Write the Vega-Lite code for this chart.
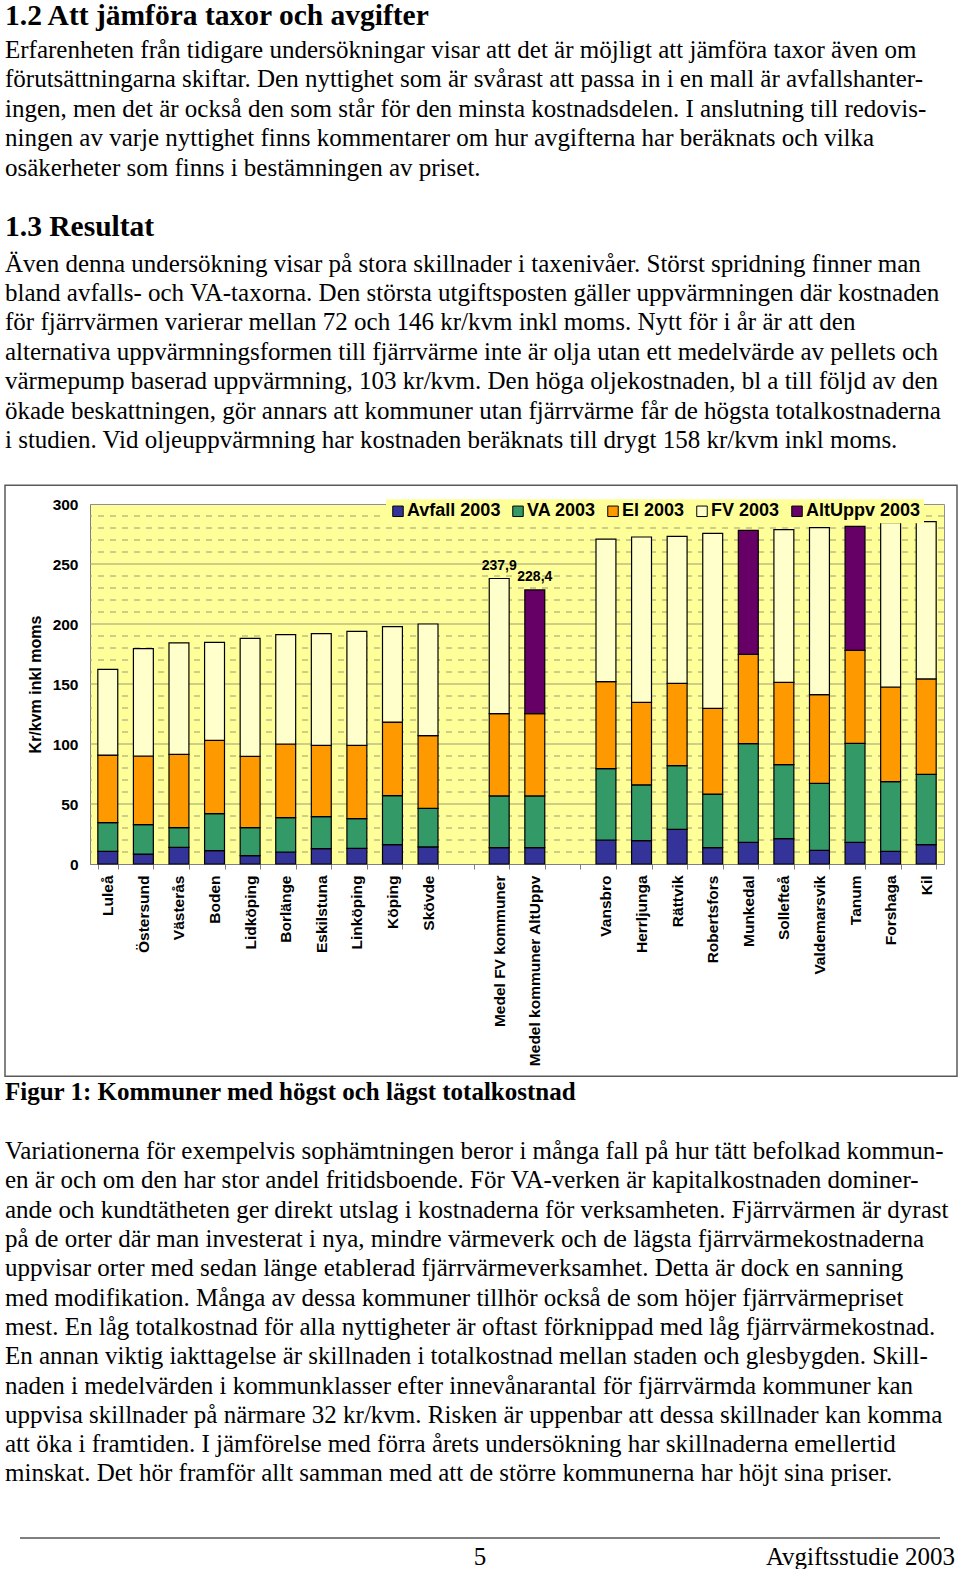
{
  "$schema": "https://vega.github.io/schema/vega-lite/v6.json",
  "background": "white",
  "padding": {"left": 3, "top": 0, "right": 0, "bottom": 0},
  "spacing": 0,
  "bounds": "flush",
  "resolve": {"legend": {"color": "independent", "strokeDash": "independent"}},
  "config": {"view": {"stroke": null}, "font": "Liberation Sans"},
  "datasets": {
    "staplar": [
      {"kommun": "Luleå", "Avfall 2003": 10.6, "VA 2003": 23.8, "El 2003": 56.4, "FV 2003": 71.4},
      {"kommun": "Östersund", "Avfall 2003": 8.3, "VA 2003": 24.5, "El 2003": 57.2, "FV 2003": 89.4},
      {"kommun": "Västerås", "Avfall 2003": 13.9, "VA 2003": 16.4, "El 2003": 61.1, "FV 2003": 92.8},
      {"kommun": "Boden", "Avfall 2003": 11.1, "VA 2003": 30.8, "El 2003": 61.1, "FV 2003": 81.7},
      {"kommun": "Lidköping", "Avfall 2003": 6.9, "VA 2003": 23.4, "El 2003": 59.4, "FV 2003": 98.3},
      {"kommun": "Borlänge", "Avfall 2003": 10.0, "VA 2003": 28.6, "El 2003": 61.4, "FV 2003": 91.1},
      {"kommun": "Eskilstuna", "Avfall 2003": 12.8, "VA 2003": 26.6, "El 2003": 59.5, "FV 2003": 93.1},
      {"kommun": "Linköping", "Avfall 2003": 13.1, "VA 2003": 24.7, "El 2003": 61.1, "FV 2003": 95.0},
      {"kommun": "Köping", "Avfall 2003": 16.1, "VA 2003": 40.8, "El 2003": 61.4, "FV 2003": 79.5},
      {"kommun": "Skövde", "Avfall 2003": 14.2, "VA 2003": 32.2, "El 2003": 60.5, "FV 2003": 93.1},
      {"kommun": "Medel FV kommuner", "Avfall 2003": 13.6, "VA 2003": 43.1, "El 2003": 68.6, "FV 2003": 112.6},
      {"kommun": "Medel kommuner AltUppv", "Avfall 2003": 13.6, "VA 2003": 43.1, "El 2003": 68.6, "AltUppv 2003": 103.1},
      {"kommun": "Vansbro", "Avfall 2003": 20.0, "VA 2003": 59.4, "El 2003": 72.5, "FV 2003": 118.9},
      {"kommun": "Herrljunga", "Avfall 2003": 19.4, "VA 2003": 46.6, "El 2003": 68.7, "FV 2003": 137.8},
      {"kommun": "Rättvik", "Avfall 2003": 28.9, "VA 2003": 53.0, "El 2003": 68.7, "FV 2003": 122.4},
      {"kommun": "Robertsfors", "Avfall 2003": 13.6, "VA 2003": 44.7, "El 2003": 71.4, "FV 2003": 145.9},
      {"kommun": "Munkedal", "Avfall 2003": 18.1, "VA 2003": 82.2, "El 2003": 74.4, "AltUppv 2003": 103.3},
      {"kommun": "Sollefteå", "Avfall 2003": 21.1, "VA 2003": 61.7, "El 2003": 68.6, "FV 2003": 127.2},
      {"kommun": "Valdemarsvik", "Avfall 2003": 11.4, "VA 2003": 55.8, "El 2003": 73.9, "FV 2003": 139.2},
      {"kommun": "Tanum", "Avfall 2003": 18.1, "VA 2003": 82.5, "El 2003": 77.5, "AltUppv 2003": 103.3},
      {"kommun": "Forshaga", "Avfall 2003": 10.6, "VA 2003": 58.0, "El 2003": 78.9, "FV 2003": 136.9},
      {"kommun": "Kil", "Avfall 2003": 16.1, "VA 2003": 58.6, "El 2003": 79.5, "FV 2003": 131.1}
    ],
    "ordning": [
      {"typ": "Avfall 2003", "nr": 1},
      {"typ": "VA 2003", "nr": 2},
      {"typ": "El 2003", "nr": 3},
      {"typ": "FV 2003", "nr": 4},
      {"typ": "AltUppv 2003", "nr": 4}
    ],
    "summor": [
      {"kommun": "Medel FV kommuner", "v": 237.9, "etikett": "237,9"},
      {"kommun": "Medel kommuner AltUppv", "v": 228.4, "etikett": "228,4"}
    ],
    "stodlinjer": [
      {"varde": 10, "linje": "streckad"}, {"varde": 20, "linje": "streckad"}, {"varde": 30, "linje": "streckad"}, {"varde": 40, "linje": "streckad"}, {"varde": 50, "linje": "hel"},
      {"varde": 60, "linje": "streckad"}, {"varde": 70, "linje": "streckad"}, {"varde": 80, "linje": "streckad"}, {"varde": 90, "linje": "streckad"}, {"varde": 100, "linje": "hel"},
      {"varde": 110, "linje": "streckad"}, {"varde": 120, "linje": "streckad"}, {"varde": 130, "linje": "streckad"}, {"varde": 140, "linje": "streckad"}, {"varde": 150, "linje": "hel"},
      {"varde": 160, "linje": "streckad"}, {"varde": 170, "linje": "streckad"}, {"varde": 180, "linje": "streckad"}, {"varde": 190, "linje": "streckad"}, {"varde": 200, "linje": "hel"},
      {"varde": 210, "linje": "streckad"}, {"varde": 220, "linje": "streckad"}, {"varde": 230, "linje": "streckad"}, {"varde": 240, "linje": "streckad"}, {"varde": 250, "linje": "hel"},
      {"varde": 260, "linje": "streckad"}, {"varde": 270, "linje": "streckad"}, {"varde": 280, "linje": "streckad"}, {"varde": 290, "linje": "streckad"}
    ]
  },
  "vconcat": [
    {
      "width": 854, "height": 29.25,
      "data": {"values": [{"rad": 1, "text": "1.2 Att jämföra taxor och avgifter"}]},
      "mark": {"type": "text", "align": "left", "baseline": "alphabetic", "dy": 10.3, "font": "Liberation Serif", "fontWeight": "bold", "fontSize": 29.5, "color": "#000"},
      "encoding": {
        "x": {"datum": 0, "type": "quantitative", "scale": {"domain": [0, 1], "range": [-85, 865], "nice": false, "zero": false}, "axis": null},
        "y": {"field": "rad", "type": "quantitative", "scale": {"domain": [0.5, 1.5], "reverse": true, "nice": false, "zero": false}, "axis": null},
        "text": {"field": "text"}
      }
    },
    {
      "width": 854, "height": 147.5,
      "data": {"values": [
        {"rad": 1, "text": "Erfarenheten från tidigare undersökningar visar att det är möjligt att jämföra taxor även om"},
        {"rad": 2, "text": "förutsättningarna skiftar. Den nyttighet som är svårast att passa in i en mall är avfallshanter-"},
        {"rad": 3, "text": "ingen, men det är också den som står för den minsta kostnadsdelen. I anslutning till redovis-"},
        {"rad": 4, "text": "ningen av varje nyttighet finns kommentarer om hur avgifterna har beräknats och vilka"},
        {"rad": 5, "text": "osäkerheter som finns i bestämningen av priset."}
      ]},
      "mark": {"type": "text", "align": "left", "baseline": "alphabetic", "dy": 13, "font": "Liberation Serif", "fontSize": 25, "color": "#000"},
      "encoding": {
        "x": {"datum": 0, "type": "quantitative", "scale": {"domain": [0, 1], "range": [-85, 865], "nice": false, "zero": false}, "axis": null},
        "y": {"field": "rad", "type": "quantitative", "scale": {"domain": [0.5, 5.5], "reverse": true, "nice": false, "zero": false}, "axis": null},
        "text": {"field": "text"}
      }
    },
    {
      "width": 854, "height": 76.55,
      "data": {"values": [{"rad": 1, "text": "1.3 Resultat"}]},
      "mark": {"type": "text", "align": "left", "baseline": "alphabetic", "dy": 20, "font": "Liberation Serif", "fontWeight": "bold", "fontSize": 29.5, "color": "#000"},
      "encoding": {
        "x": {"datum": 0, "type": "quantitative", "scale": {"domain": [0, 1], "range": [-85, 865], "nice": false, "zero": false}, "axis": null},
        "y": {"field": "rad", "type": "quantitative", "scale": {"domain": [0.5, 1.5], "reverse": true, "nice": false, "zero": false}, "axis": null},
        "text": {"field": "text"}
      }
    },
    {
      "width": 854, "height": 248.4,
      "data": {"values": [
        {"rad": 1, "text": "Även denna undersökning visar på stora skillnader i taxenivåer. Störst spridning finner man"},
        {"rad": 2, "text": "bland avfalls- och VA-taxorna. Den största utgiftsposten gäller uppvärmningen där kostnaden"},
        {"rad": 3, "text": "för fjärrvärmen varierar mellan 72 och 146 kr/kvm inkl moms. Nytt för i år är att den"},
        {"rad": 4, "text": "alternativa uppvärmningsformen till fjärrvärme inte är olja utan ett medelvärde av pellets och"},
        {"rad": 5, "text": "värmepump baserad uppvärmning, 103 kr/kvm. Den höga oljekostnaden, bl a till följd av den"},
        {"rad": 6, "text": "ökade beskattningen, gör annars att kommuner utan fjärrvärme får de högsta totalkostnaderna"},
        {"rad": 7, "text": "i studien. Vid oljeuppvärmning har kostnaden beräknats till drygt 158 kr/kvm inkl moms."}
      ]},
      "mark": {"type": "text", "align": "left", "baseline": "alphabetic", "dy": 2, "font": "Liberation Serif", "fontSize": 25, "color": "#000"},
      "encoding": {
        "x": {"datum": 0, "type": "quantitative", "scale": {"domain": [0, 1], "range": [-85, 865], "nice": false, "zero": false}, "axis": null},
        "y": {"field": "rad", "type": "quantitative", "scale": {"domain": [0.5, 8.949], "reverse": true, "nice": false, "zero": false}, "axis": null},
        "text": {"field": "text"}
      }
    },
    {
      "width": 854, "height": 360,
      "view": {"fill": "#FFFF99", "stroke": "#909090", "strokeWidth": 1},
      "resolve": {"scale": {"x": "independent"}, "axis": {"x": "independent"}},
      "layer": [
        {
          "data": {"values": [{"del": "ram"}]},
          "mark": {"type": "rect", "filled": false, "stroke": "#5a5a5a", "strokeWidth": 1.5},
          "encoding": {
            "x": {"datum": 0, "type": "quantitative", "scale": {"domain": [0, 1], "range": [-85, 867], "nice": false, "zero": false}, "axis": null},
            "x2": {"datum": 1},
            "y": {
              "datum": 315.6, "type": "quantitative", "scale": {"domain": [0, 300], "nice": false},
              "axis": {
                "orient": "left",
                "title": "Kr/kvm inkl moms", "titleFont": "Liberation Sans", "titleFontSize": 16, "titleFontWeight": "bold", "titleColor": "#000", "titlePadding": 9,
                "values": [0, 50, 100, 150, 200, 250, 300],
                "labelFont": "Liberation Sans", "labelFontSize": 15.5, "labelFontWeight": "bold", "labelColor": "#000", "labelPadding": 12,
                "labelOverlap": false, "labelBound": false, "labelFlush": false,
                "ticks": false, "domainColor": "#808080", "grid": false
              }
            },
            "y2": {"datum": -176.9}
          }
        },
        {
          "data": {"name": "stodlinjer"},
          "mark": {"type": "rule", "color": "#9c9c78", "strokeWidth": 1},
          "encoding": {
            "y": {
              "field": "varde", "type": "quantitative", "scale": {"domain": [0, 300], "nice": false},
              "axis": {
                "orient": "left",
                "title": "Kr/kvm inkl moms", "titleFont": "Liberation Sans", "titleFontSize": 16, "titleFontWeight": "bold", "titleColor": "#000", "titlePadding": 9,
                "values": [0, 50, 100, 150, 200, 250, 300],
                "labelFont": "Liberation Sans", "labelFontSize": 15.5, "labelFontWeight": "bold", "labelColor": "#000", "labelPadding": 12,
                "labelOverlap": false, "labelBound": false, "labelFlush": false,
                "ticks": false, "domainColor": "#808080", "grid": false
              }
            },
            "strokeDash": {"field": "linje", "type": "nominal", "scale": {"domain": ["hel", "streckad"], "range": [[1, 0], [6, 6]]}, "legend": null}
          }
        },
        {
          "data": {"name": "staplar"},
          "transform": [
            {"fold": ["Avfall 2003", "VA 2003", "El 2003", "FV 2003", "AltUppv 2003"], "as": ["typ", "v"]},
            {"filter": "isValid(datum.v)"},
            {"lookup": "typ", "from": {"data": {"name": "ordning"}, "key": "typ", "fields": ["nr"]}}
          ],
          "mark": {"type": "bar", "stroke": "#000", "strokeWidth": 1.2},
          "encoding": {
            "x": {
              "field": "kommun", "type": "nominal", "sort": null,
              "scale": {
                "domain": ["Luleå", "Östersund", "Västerås", "Boden", "Lidköping", "Borlänge", "Eskilstuna", "Linköping", "Köping", "Skövde", " ", "Medel FV kommuner", "Medel kommuner AltUppv", "  ", "Vansbro", "Herrljunga", "Rättvik", "Robertsfors", "Munkedal", "Sollefteå", "Valdemarsvik", "Tanum", "Forshaga", "Kil"],
                "paddingInner": 0.44, "paddingOuter": 0.22
              },
              "axis": {
                "title": null, "orient": "bottom", "labelAngle": -90,
                "labelFont": "Liberation Sans", "labelFontSize": 15.5, "labelFontWeight": "bold", "labelColor": "#000",
                "labelPadding": 6, "tickBand": "extent", "tickSize": 5, "tickColor": "#808080",
                "domainColor": "#808080", "labelLimit": 0, "grid": false
              }
            },
            "y": {
              "field": "v", "type": "quantitative", "stack": "zero",
              "scale": {"domain": [0, 300], "nice": false},
              "axis": {
                "orient": "left",
                "title": "Kr/kvm inkl moms", "titleFont": "Liberation Sans", "titleFontSize": 16, "titleFontWeight": "bold", "titleColor": "#000", "titlePadding": 9,
                "values": [0, 50, 100, 150, 200, 250, 300],
                "labelFont": "Liberation Sans", "labelFontSize": 15.5, "labelFontWeight": "bold", "labelColor": "#000", "labelPadding": 12,
                "labelOverlap": false, "labelBound": false, "labelFlush": false,
                "ticks": false, "domainColor": "#808080", "grid": false
              }
            },
            "color": {
              "field": "typ", "type": "nominal",
              "scale": {"domain": ["Avfall 2003", "VA 2003", "El 2003", "FV 2003", "AltUppv 2003"], "range": ["#333399", "#339966", "#FF9900", "#FFFFCC", "#660066"]},
              "legend": {
                "title": null, "orient": "none", "legendX": 296, "legendY": -4.7, "direction": "horizontal", "columns": 5,
                "labelFont": "Liberation Sans", "labelFontWeight": "bold", "labelFontSize": 18, "labelColor": "#000",
                "symbolType": "square", "symbolSize": 110, "symbolStrokeColor": "#000", "symbolStrokeWidth": 1, "symbolOpacity": 1,
                "labelOffset": 0, "columnPadding": 8, "fillColor": "#FFFF99", "padding": 3, "rowPadding": 0
              }
            },
            "order": {"field": "nr", "type": "quantitative"}
          }
        },
        {
          "data": {"name": "summor"},
          "mark": {"type": "text", "font": "Liberation Sans", "fontWeight": "bold", "fontSize": 14, "baseline": "bottom", "dy": -6, "color": "#000"},
          "encoding": {
            "x": {
              "field": "kommun", "type": "nominal", "sort": null,
              "scale": {
                "domain": ["Luleå", "Östersund", "Västerås", "Boden", "Lidköping", "Borlänge", "Eskilstuna", "Linköping", "Köping", "Skövde", " ", "Medel FV kommuner", "Medel kommuner AltUppv", "  ", "Vansbro", "Herrljunga", "Rättvik", "Robertsfors", "Munkedal", "Sollefteå", "Valdemarsvik", "Tanum", "Forshaga", "Kil"],
                "paddingInner": 0.44, "paddingOuter": 0.22
              },
              "axis": null
            },
            "y": {
              "field": "v", "type": "quantitative", "scale": {"domain": [0, 300], "nice": false},
              "axis": {
                "orient": "left",
                "title": "Kr/kvm inkl moms", "titleFont": "Liberation Sans", "titleFontSize": 16, "titleFontWeight": "bold", "titleColor": "#000", "titlePadding": 9,
                "values": [0, 50, 100, 150, 200, 250, 300],
                "labelFont": "Liberation Sans", "labelFontSize": 15.5, "labelFontWeight": "bold", "labelColor": "#000", "labelPadding": 12,
                "labelOverlap": false, "labelBound": false, "labelFlush": false,
                "ticks": false, "domainColor": "#808080", "grid": false
              }
            },
            "text": {"field": "etikett"}
          }
        }
      ]
    },
    {
      "width": 854, "height": 278.65,
      "data": {"values": [{"rad": 1, "text": "Figur 1: Kommuner med högst och lägst totalkostnad"}]},
      "mark": {"type": "text", "align": "left", "baseline": "alphabetic", "dy": 97, "font": "Liberation Serif", "fontWeight": "bold", "fontSize": 25, "color": "#000"},
      "encoding": {
        "x": {"datum": 0, "type": "quantitative", "scale": {"domain": [0, 1], "range": [-85, 865], "nice": false, "zero": false}, "axis": null},
        "y": {"field": "rad", "type": "quantitative", "scale": {"domain": [0.5, 1.5], "reverse": true, "nice": false, "zero": false}, "axis": null},
        "text": {"field": "text"}
      }
    },
    {
      "width": 854, "height": 394.65,
      "data": {"values": [
        {"rad": 1, "text": "Variationerna för exempelvis sophämtningen beror i många fall på hur tätt befolkad kommun-"},
        {"rad": 2, "text": "en är och om den har stor andel fritidsboende. För VA-verken är kapitalkostnaden dominer-"},
        {"rad": 3, "text": "ande och kundtätheten ger direkt utslag i kostnaderna för verksamheten. Fjärrvärmen är dyrast"},
        {"rad": 4, "text": "på de orter där man investerat i nya, mindre värmeverk och de lägsta fjärrvärmekostnaderna"},
        {"rad": 5, "text": "uppvisar orter med sedan länge etablerad fjärrvärmeverksamhet. Detta är dock en sanning"},
        {"rad": 6, "text": "med modifikation. Många av dessa kommuner tillhör också de som höjer fjärrvärmepriset"},
        {"rad": 7, "text": "mest. En låg totalkostnad för alla nyttigheter är oftast förknippad med låg fjärrvärmekostnad."},
        {"rad": 8, "text": "En annan viktig iakttagelse är skillnaden i totalkostnad mellan staden och glesbygden. Skill-"},
        {"rad": 9, "text": "naden i medelvärden i kommunklasser efter innevånarantal för fjärrvärmda kommuner kan"},
        {"rad": 10, "text": "uppvisa skillnader på närmare 32 kr/kvm. Risken är uppenbar att dessa skillnader kan komma"},
        {"rad": 11, "text": "att öka i framtiden. I jämförelse med förra årets undersökning har skillnaderna emellertid"},
        {"rad": 12, "text": "minskat. Det hör framför allt samman med att de större kommunerna har höjt sina priser."}
      ]},
      "mark": {"type": "text", "align": "left", "baseline": "alphabetic", "dy": 1.5, "font": "Liberation Serif", "fontSize": 25, "color": "#000"},
      "encoding": {
        "x": {"datum": 0, "type": "quantitative", "scale": {"domain": [0, 1], "range": [-85, 865], "nice": false, "zero": false}, "axis": null},
        "y": {"field": "rad", "type": "quantitative", "scale": {"domain": [0.5, 13.969], "reverse": true, "nice": false, "zero": false}, "axis": null},
        "text": {"field": "text"}
      }
    },
    {
      "width": 854, "height": 27,
      "layer": [
        {
          "data": {"values": [{"del": "linje"}]},
          "mark": {"type": "rule", "color": "#000", "strokeWidth": 1},
          "encoding": {
            "x": {"datum": 0, "type": "quantitative", "scale": {"domain": [0, 1], "range": [-70, 850], "nice": false, "zero": false}, "axis": null},
            "x2": {"datum": 1},
            "y": {"datum": 1, "type": "quantitative", "scale": {"domain": [0, 1], "nice": false}, "axis": null}
          }
        },
        {
          "data": {"values": [{"text": "5"}]},
          "mark": {"type": "text", "align": "center", "baseline": "alphabetic", "font": "Liberation Serif", "fontSize": 25, "color": "#000"},
          "encoding": {"x": {"datum": 0.5, "type": "quantitative", "axis": null}, "y": {"datum": 0, "type": "quantitative", "axis": null}, "text": {"field": "text"}}
        },
        {
          "data": {"values": [{"text": "Avgiftsstudie 2003"}]},
          "mark": {"type": "text", "align": "right", "baseline": "alphabetic", "x": "width", "dx": 11, "font": "Liberation Serif", "fontSize": 25, "color": "#000"},
          "encoding": {"y": {"datum": 0, "type": "quantitative", "axis": null}, "text": {"field": "text"}}
        }
      ]
    }
  ]
}
